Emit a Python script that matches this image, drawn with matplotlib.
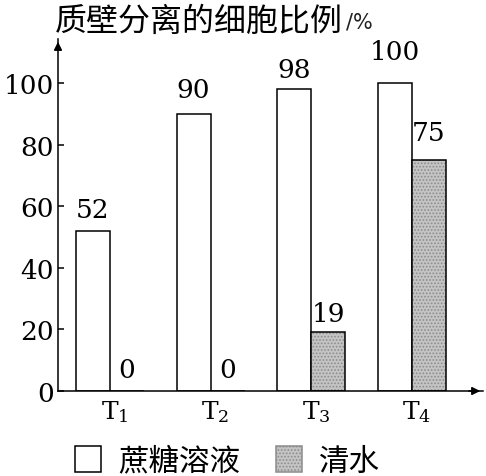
import numpy as np
import matplotlib
matplotlib.use('Agg')
from matplotlib import pyplot as plt
from matplotlib.patches import Patch

plt.rcParams['font.family'] = ['DejaVu Serif', 'Noto Sans CJK SC']
plt.rcParams['mathtext.fontset'] = 'dejavuserif'
plt.rcParams['hatch.linewidth'] = 0.8

# Daten
groups = ['T$_1$', 'T$_2$', 'T$_3$', 'T$_4$']
sucrose = [52, 90, 98, 100]
water = [0, 0, 19, 75]
y_ticks = [0, 20, 40, 60, 80, 100]
title_text = '质壁分离的细胞比例'
unit_text = '/%'
legend_labels = ['蔗糖溶液', '清水']

# Abstand der Zahlen über den Säulen (Punkte)
pad_sucrose = [6.5, 8.5, 5, 13.5]
pad_water = [6.5, 6.5, 5, 10.5]

cjk = ['Noto Sans CJK SC', 'DejaVu Sans']
water_face = '#c4c4c4'
water_hatch = '#8c8c8c'

fig = plt.figure(figsize=(4.86, 4.77), dpi=100)
ax = fig.add_axes([58 / 486, 85 / 477, 425 / 486, 352 / 477])

x = np.arange(len(groups))
w = 0.338

ax.bar(x - w / 2, sucrose, w, color='white', edgecolor='black', linewidth=1.1)
ax.bar(x + w / 2, water, w, color=water_face, edgecolor=water_hatch,
       hatch='.....', linewidth=0)
ax.bar(x + w / 2, water, w, fill=False, edgecolor='black', linewidth=1.1)

for xi, v, p in zip(x - w / 2, sucrose, pad_sucrose):
    ax.annotate(str(v), (xi, v), xytext=(0, p), textcoords='offset points',
                ha='center', va='bottom', fontsize=19)
for xi, v, p in zip(x + w / 2, water, pad_water):
    ax.annotate(str(v), (xi, v), xytext=(0, p), textcoords='offset points',
                ha='center', va='bottom', fontsize=19)

ax.set_xlim(-0.517, 3.71)
ax.set_ylim(0, 114.3)
ax.set_yticks(y_ticks)
ax.set_xticks(x + 0.05)
ax.set_xticklabels(groups)
ax.tick_params(axis='y', direction='in', length=4, width=1.1, pad=3, labelsize=19)
ax.tick_params(axis='x', length=0, pad=5, labelsize=18)

for s in ['top', 'right']:
    ax.spines[s].set_visible(False)
for s in ['left', 'bottom']:
    ax.spines[s].set_linewidth(1.1)

# Pfeile an den Achsen
ax.annotate('', xy=(1.0, 0), xytext=(0.96, 0), xycoords='axes fraction',
            arrowprops=dict(arrowstyle='-|>', color='black', lw=1.1, mutation_scale=12),
            annotation_clip=False)
ax.annotate('', xy=(0, 1.0), xytext=(0, 0.96), xycoords='axes fraction',
            arrowprops=dict(arrowstyle='-|>', color='black', lw=1.1, mutation_scale=12),
            annotation_clip=False)

# Titel
t = fig.text(55 / 486, 1 - 22 / 477, title_text, va='center', ha='left',
             fontsize=23, family=cjk)
ax.annotate(unit_text, xy=(1, 0), xycoords=t, xytext=(2, 4), textcoords='offset points',
            ha='left', va='bottom', fontsize=15, family='DejaVu Sans', color='#222222')

# Legende
handles = [Patch(facecolor='white', edgecolor='black', linewidth=1.1),
           Patch(facecolor=water_face, edgecolor=water_hatch, hatch='.....', linewidth=1.1)]
leg = ax.legend(handles, legend_labels, loc='center left',
                bbox_to_anchor=(75 / 486, 15 / 477), bbox_transform=fig.transFigure,
                ncol=2, frameon=False, handlelength=0.85, handleheight=0.9,
                handletextpad=0.55, columnspacing=1.2, borderpad=0, borderaxespad=0,
                prop={'family': cjk, 'size': 22})

plt.savefig('out.png', dpi=100)
